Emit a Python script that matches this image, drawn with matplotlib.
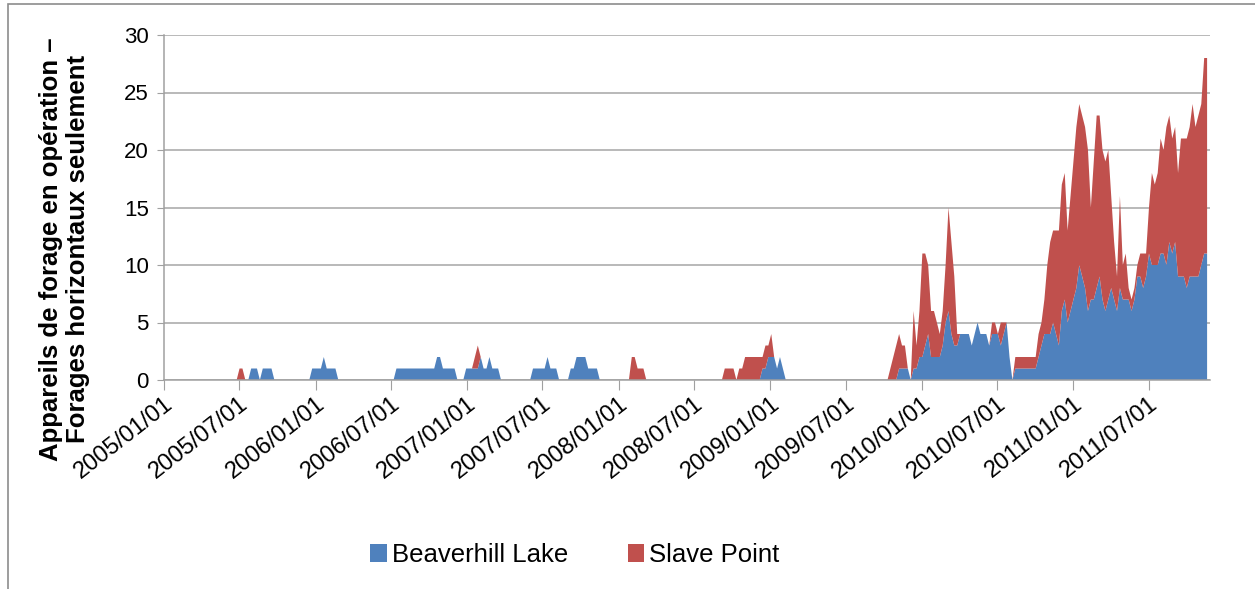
import matplotlib
matplotlib.use("Agg")
import matplotlib.pyplot as plt
from matplotlib.patches import Patch, Rectangle
import pandas as pd

plt.rcParams['font.family'] = ['Liberation Sans', 'DejaVu Sans']

# weekly counts of active rigs, starting 2005/01/01 (one row = 20 weeks)
beaverhill = [
    0, 0, 0, 0, 0, 0, 0, 0, 0, 0, 0, 0, 0, 0, 0, 0, 0, 0, 0, 0,
    0, 0, 0, 0, 0, 0, 0, 0, 0, 0, 1, 1, 1, 0, 1, 1, 1, 1, 0, 0,
    0, 0, 0, 0, 0, 0, 0, 0, 0, 0, 0, 1, 1, 1, 1, 2, 1, 1, 1, 1,
    0, 0, 0, 0, 0, 0, 0, 0, 0, 0, 0, 0, 0, 0, 0, 0, 0, 0, 0, 0,
    1, 1, 1, 1, 1, 1, 1, 1, 1, 1, 1, 1, 1, 1, 2, 2, 1, 1, 1, 1,
    1, 0, 0, 0, 1, 1, 1, 1, 1, 2, 1, 1, 2, 1, 1, 1, 0, 0, 0, 0,
    0, 0, 0, 0, 0, 0, 0, 1, 1, 1, 1, 1, 2, 1, 1, 1, 0, 0, 0, 0,
    1, 1, 2, 2, 2, 2, 1, 1, 1, 1, 0, 0, 0, 0, 0, 0, 0, 0, 0, 0,
    0, 0, 0, 0, 0, 0, 0, 0, 0, 0, 0, 0, 0, 0, 0, 0, 0, 0, 0, 0,
    0, 0, 0, 0, 0, 0, 0, 0, 0, 0, 0, 0, 0, 0, 0, 0, 0, 0, 0, 0,
    0, 0, 0, 0, 0, 0, 1, 1, 2, 2, 2, 1, 2, 1, 0, 0, 0, 0, 0, 0,
    0, 0, 0, 0, 0, 0, 0, 0, 0, 0, 0, 0, 0, 0, 0, 0, 0, 0, 0, 0,
    0, 0, 0, 0, 0, 0, 0, 0, 0, 0, 0, 0, 0, 1, 1, 1, 1, 0, 1, 1,
    2, 2, 3, 4, 2, 2, 2, 2, 3, 5, 6, 4, 3, 3, 4, 4, 4, 4, 3, 4,
    5, 4, 4, 4, 3, 4, 4, 4, 3, 4, 5, 2, 0, 1, 1, 1, 1, 1, 1, 1,
    1, 2, 3, 4, 4, 4, 5, 4, 3, 6, 7, 5, 6, 7, 8, 10, 9, 8, 6, 7,
    7, 8, 9, 7, 6, 7, 8, 7, 6, 8, 7, 7, 7, 6, 7, 9, 9, 8, 9, 11,
    10, 10, 10, 11, 11, 10, 12, 11, 12, 9, 9, 9, 8, 9, 9, 9, 9, 10, 11, 11,
]
slave_point = [
    0, 0, 0, 0, 0, 0, 0, 0, 0, 0, 0, 0, 0, 0, 0, 0, 0, 0, 0, 0,
    0, 0, 0, 0, 0, 0, 1, 1, 0, 0, 0, 0, 0, 0, 0, 0, 0, 0, 0, 0,
    0, 0, 0, 0, 0, 0, 0, 0, 0, 0, 0, 0, 0, 0, 0, 0, 0, 0, 0, 0,
    0, 0, 0, 0, 0, 0, 0, 0, 0, 0, 0, 0, 0, 0, 0, 0, 0, 0, 0, 0,
    0, 0, 0, 0, 0, 0, 0, 0, 0, 0, 0, 0, 0, 0, 0, 0, 0, 0, 0, 0,
    0, 0, 0, 0, 0, 0, 0, 1, 2, 0, 0, 0, 0, 0, 0, 0, 0, 0, 0, 0,
    0, 0, 0, 0, 0, 0, 0, 0, 0, 0, 0, 0, 0, 0, 0, 0, 0, 0, 0, 0,
    0, 0, 0, 0, 0, 0, 0, 0, 0, 0, 0, 0, 0, 0, 0, 0, 0, 0, 0, 0,
    0, 2, 2, 1, 1, 1, 0, 0, 0, 0, 0, 0, 0, 0, 0, 0, 0, 0, 0, 0,
    0, 0, 0, 0, 0, 0, 0, 0, 0, 0, 0, 0, 0, 1, 1, 1, 1, 0, 1, 1,
    2, 2, 2, 2, 2, 2, 1, 2, 1, 2, 0, 0, 0, 0, 0, 0, 0, 0, 0, 0,
    0, 0, 0, 0, 0, 0, 0, 0, 0, 0, 0, 0, 0, 0, 0, 0, 0, 0, 0, 0,
    0, 0, 0, 0, 0, 0, 0, 0, 0, 0, 1, 2, 3, 3, 2, 2, 0, 0, 5, 2,
    4, 9, 8, 6, 4, 4, 3, 2, 3, 5, 9, 8, 6, 1, 0, 0, 0, 0, 0, 0,
    0, 0, 0, 0, 0, 1, 1, 0, 2, 1, 0, 0, 0, 1, 1, 1, 1, 1, 1, 1,
    1, 2, 2, 3, 6, 8, 8, 9, 10, 11, 11, 8, 10, 12, 14, 14, 14, 14, 14, 8,
    12, 15, 14, 13, 13, 13, 8, 5, 3, 8, 3, 4, 1, 1, 1, 1, 2, 3, 2, 4,
    8, 7, 8, 10, 9, 12, 11, 10, 10, 9, 12, 12, 13, 13, 15, 13, 14, 14, 17, 17,
]
series_names = ["Beaverhill Lake", "Slave Point"]
series_colors = ["#4F81BD", "#C0504D"]
tick_labels = ["2005/01/01", "2005/07/01", "2006/01/01", "2006/07/01",
               "2007/01/01", "2007/07/01", "2008/01/01", "2008/07/01",
               "2009/01/01", "2009/07/01", "2010/01/01", "2010/07/01",
               "2011/01/01", "2011/07/01"]
ylabel = "Appareils de forage en opération –\nForages horizontaux seulement"

dates = pd.date_range("2005-01-01", periods=len(beaverhill), freq="7D")
tick_dates = pd.to_datetime(tick_labels, format="%Y/%m/%d")

fig = plt.figure(figsize=(12.55, 5.89), dpi=100)
ax = fig.add_axes([164 / 1255, 1 - 380 / 589, (1210 - 164) / 1255, 345 / 589])

ax.stackplot(dates, beaverhill, slave_point, colors=series_colors,
             linewidth=0, zorder=3)

ax.set_xlim(dates[0], dates[-1] + pd.Timedelta(days=7))
ax.set_ylim(0, 30)
ax.set_yticks(range(0, 31, 5))
ax.set_xticks(tick_dates)
ax.set_xticklabels(tick_labels, rotation=38, ha="right", va="top",
                   rotation_mode="anchor", fontsize=17)
ax.tick_params(axis="y", labelsize=16, length=5, color="#A0A0A0", pad=6)
ax.tick_params(axis="x", length=7, color="#A0A0A0", pad=2)

ax.grid(axis="y", color="#A6A6A6", linewidth=1.1, zorder=1)
ax.set_axisbelow(True)
for side in ["top", "right"]:
    ax.spines[side].set_visible(False)
for side in ["left", "bottom"]:
    ax.spines[side].set_color("#A0A0A0")
    ax.spines[side].set_linewidth(1.1)
    ax.spines[side].set_zorder(4)

ax.set_ylabel(ylabel, fontsize=18.5, fontweight="bold", linespacing=1.15)
ax.yaxis.set_label_coords((90 - 164) / 1046, (380 - 249) / 345)

handles = [Patch(facecolor=c, edgecolor="none") for c in series_colors]
fig.legend(handles, series_names, loc="center",
           bbox_to_anchor=(575 / 1255, 1 - 555 / 589), ncol=2,
           frameon=False, fontsize=18.5, handlelength=0.65, handleheight=0.75,
           handletextpad=0.2, columnspacing=2.3)

# chart area border (left and top edges are visible in the crop)
fig.patches.append(Rectangle((8 / 1255, -10 / 589), 1300 / 1255, 595 / 589,
                             transform=fig.transFigure, fill=False,
                             edgecolor="#8C8C8C", linewidth=1.2))

fig.savefig("out.png", dpi=100)
